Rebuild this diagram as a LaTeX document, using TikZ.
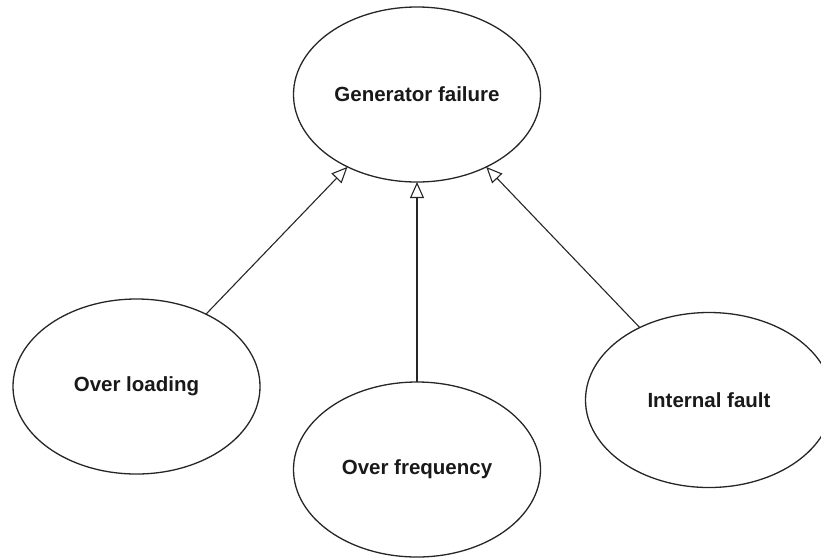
\documentclass[tikz,border=0pt]{standalone}
\usepackage{fontspec}
\setmainfont{Liberation Sans}
\usetikzlibrary{shapes.geometric,arrows.meta}
\begin{document}
\begin{tikzpicture}[x=1pt,y=-1pt,
  event/.style={ellipse,draw=black!85,line width=1.3pt,minimum width=247pt,
    minimum height=175pt,inner sep=0pt,outer sep=0pt,
    font=\fontsize{20.5}{24}\selectfont\bfseries,text=black!90},
  cause/.style={draw=black!85,line width=1.1pt,
    -{Triangle[open,length=16pt,width=14pt,line width=1.1pt]}}]
  % page frame and clipping
  \useasboundingbox (0,0) rectangle (821,558);
  \clip (0,0) rectangle (821,558);
  % events
  \node[event] (gen) at (417,94.5) {Generator failure};
  \node[event] (load) at (136.5,386.5) {Over loading};
  \node[event] (freq) at (417,469.5) {Over frequency};
  \node[event] (fault) at (709,400) {Internal fault};
  % causes pointing at the top event
  \draw[cause] (load) -- (gen);
  \draw[cause] (freq) -- (gen);
  \draw[cause] (fault) -- (gen);
\end{tikzpicture}
\end{document}
